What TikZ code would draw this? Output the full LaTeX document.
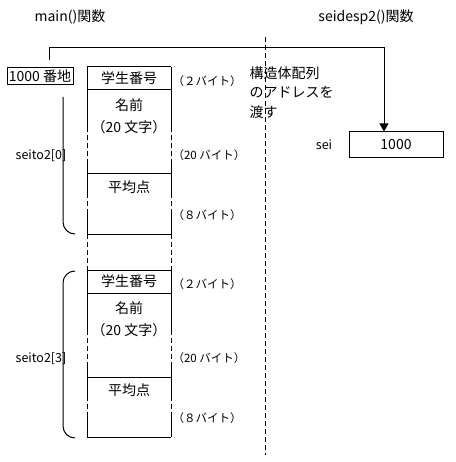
\documentclass[tikz,border=0pt]{standalone}
\usepackage{fontspec}
\setmainfont{Noto Sans CJK JP}
\usetikzlibrary{arrows.meta}

\begin{document}
\begin{tikzpicture}[x=1pt,y=-1pt,line width=1pt,
  cell/.style={font=\fontsize{14}{16}\selectfont,inner sep=0pt},
  note/.style={font=\fontsize{11.5}{14}\selectfont,inner sep=0pt,anchor=west},
  tag/.style={font=\fontsize{12.5}{15}\selectfont,inner sep=0pt},
  memo/.style={font=\fontsize{14}{19.5}\selectfont,inner sep=0pt,anchor=north west,align=left},
  cut/.style={dash pattern=on 5pt off 3pt}]
  \useasboundingbox (0,0) rectangle (455,462);
  % function names and the border between them
  \node[cell] (mainfn) at (70,17) {main()関数};
  \node[cell] (subfn) at (366,17) {seidesp2()関数};
  \coordinate (sepTop) at (265,37);
  \coordinate (sepBot) at (265,455);
  \draw[cut] (sepTop) -- (sepBot);

  % address and the pointer sei
  \node[cell,draw,minimum width=66pt,minimum height=17pt] (addr) at (40,76.5) {1000 番地};
  \node[cell,draw,minimum width=94pt,minimum height=26pt] (val) at (396,145) {1000};
  \node[tag] (sei) at (324,145) {sei};
  \coordinate (bend) at (384,48);
  \draw[-{Triangle[width=9pt,length=8pt]},shorten <=7pt]
    ([xshift=9pt]addr.north) |- (bend) -- (bend |- val.north);
  \node[memo] (pass) at (249,66) {構造体配列\\のアドレスを\\渡す};

  % the two array elements
  \foreach \o/\n in {0/0,203/3}{
    \draw (87,67+\o) -- (171,67+\o);
    \draw (87,90+\o) -- (171,90+\o);
    \draw (87,174+\o) -- (171,174+\o);
    \draw (87,234+\o) -- (171,234+\o);
    \foreach \sx in {87,171}{
      \draw (\sx,67+\o) -- (\sx,127+\o);
      \draw[cut] (\sx,127+\o) -- (\sx,160+\o);
      \draw (\sx,160+\o) -- (\sx,193+\o);
      \draw[cut] (\sx,193+\o) -- (\sx,213+\o);
      \draw (\sx,213+\o) -- (\sx,234+\o);
    }
    \node[cell] (no\n) at (129,78.5+\o) {学生番号};
    \node[cell] (name\n) at (129,105+\o) {名前};
    \node[cell] (len\n) at (129,127+\o) {（20 文字）};
    \node[cell] (avg\n) at (129,187+\o) {平均点};
    \node[note] (b2\n) at (172,81+\o) {（２バイト）};
    \node[note] (b20\n) at (172,155+\o) {（20 バイト）};
    \node[note] (b8\n) at (172,215+\o) {（８バイト）};
    \node[tag] (el\n) at (41,155.5+\o) {seito2[\n]};
  }
  % gap between seito2[0] and seito2[3]
  \foreach \sx in {87,171}
    \draw[cut] (\sx,234) -- (\sx,270);

  % braces
  \draw[rounded corners=12pt] (63,97) -- (63,234) -- (75,234);
  \draw[rounded corners=12pt] (75,271) -- (63,271) -- (63,438) -- (75,438);
\end{tikzpicture}
\end{document}
